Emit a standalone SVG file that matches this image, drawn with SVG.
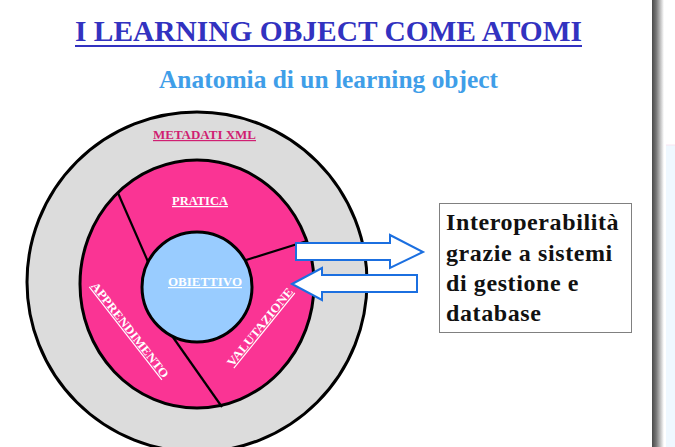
<svg xmlns="http://www.w3.org/2000/svg" width="675" height="447" viewBox="0 0 675 447">
<defs>
<linearGradient id="bar" x1="0" y1="0" x2="1" y2="0">
<stop offset="0" stop-color="#4a4a4a"/>
<stop offset="0.35" stop-color="#777"/>
<stop offset="1" stop-color="#ffffff"/>
</linearGradient>
<style>
.t{font-family:"Liberation Serif","Times New Roman",serif;font-weight:bold}
.lbl{font-family:"Liberation Serif","Times New Roman",serif;font-weight:bold;font-size:12px;fill:#ffffff;text-decoration:underline;text-anchor:middle}
.ring{stroke:#000;stroke-width:3}
.div{stroke:#000;stroke-width:2.2}
.arrow{fill:#ffffff;stroke:#1b6fe0;stroke-width:2;stroke-linejoin:miter}
.box{font-family:"Liberation Serif","Times New Roman",serif;font-weight:bold;font-size:24px;letter-spacing:0.6px;fill:#111}
</style>
</defs>
<rect width="675" height="447" fill="#ffffff"/>
<rect x="652" y="0" width="12" height="447" fill="url(#bar)"/>
<rect x="666" y="145" width="9" height="302" fill="#eff8ff"/>
<line x1="666" y1="145" x2="675" y2="145" stroke="#f8e4f0" stroke-width="1"/>

<g id="title">
<text class="t" x="75" y="41" font-size="29" fill="#3232c0" textLength="507" lengthAdjust="spacingAndGlyphs">I LEARNING OBJECT COME ATOMI</text>
<rect x="75" y="45" width="507" height="2" fill="#3232c0"/>
</g>
<g id="subtitle">
<text class="t" x="159" y="88" font-size="25" fill="#3f9ee8" textLength="339" lengthAdjust="spacingAndGlyphs">Anatomia di un learning object</text>
</g>

<g id="metadati">
<circle cx="197" cy="282" r="170" fill="#dcdcdc" class="ring"/>
<text class="t" x="153" y="139" font-size="12" fill="#d01f72" textLength="103" lengthAdjust="spacingAndGlyphs" text-decoration="underline">METADATI XML</text>
</g>

<g id="anello">
<ellipse cx="197" cy="284" rx="117" ry="124" fill="#fa3494" class="ring"/>
</g>

<g id="connectors">
<line class="div" x1="118" y1="193" x2="149" y2="264"/>
<line class="div" x1="243" y1="261" x2="307" y2="241"/>
<line class="div" x1="170" y1="333" x2="222" y2="407"/>
</g>

<g id="pratica">
<text class="lbl" x="200" y="205" textLength="56" lengthAdjust="spacingAndGlyphs">PRATICA</text>
</g>
<g id="apprendimento">
<text class="lbl" transform="translate(130,330) rotate(52)" x="0" y="4" textLength="118" lengthAdjust="spacingAndGlyphs">APPRENDIMENTO</text>
</g>
<g id="valutazione">
<text class="lbl" transform="translate(260,327) rotate(-51)" x="0" y="4" textLength="97" lengthAdjust="spacingAndGlyphs">VALUTAZIONE</text>
</g>

<g id="obiettivo">
<circle cx="197" cy="287" r="55" fill="#99ccff" class="ring"/>
<text class="lbl" x="205" y="286" textLength="74" lengthAdjust="spacingAndGlyphs">OBIETTIVO</text>
</g>

<g id="frecce">
<polygon class="arrow" points="296,243 390,243 390,235 423,252 390,268 390,260 296,260"/>
<polygon class="arrow" points="292,284 322,268 322,275 417,275 417,292 322,292 322,300"/>
</g>

<g id="interoperabilita">
<rect x="439.5" y="203.5" width="192" height="129" fill="#ffffff" stroke="#808080" stroke-width="1"/>
<text class="box" x="446" y="230">Interoperabilità</text>
<text class="box" x="446" y="261">grazie a sistemi</text>
<text class="box" x="446" y="291">di gestione e</text>
<text class="box" x="446" y="321">database</text>
</g>
</svg>
